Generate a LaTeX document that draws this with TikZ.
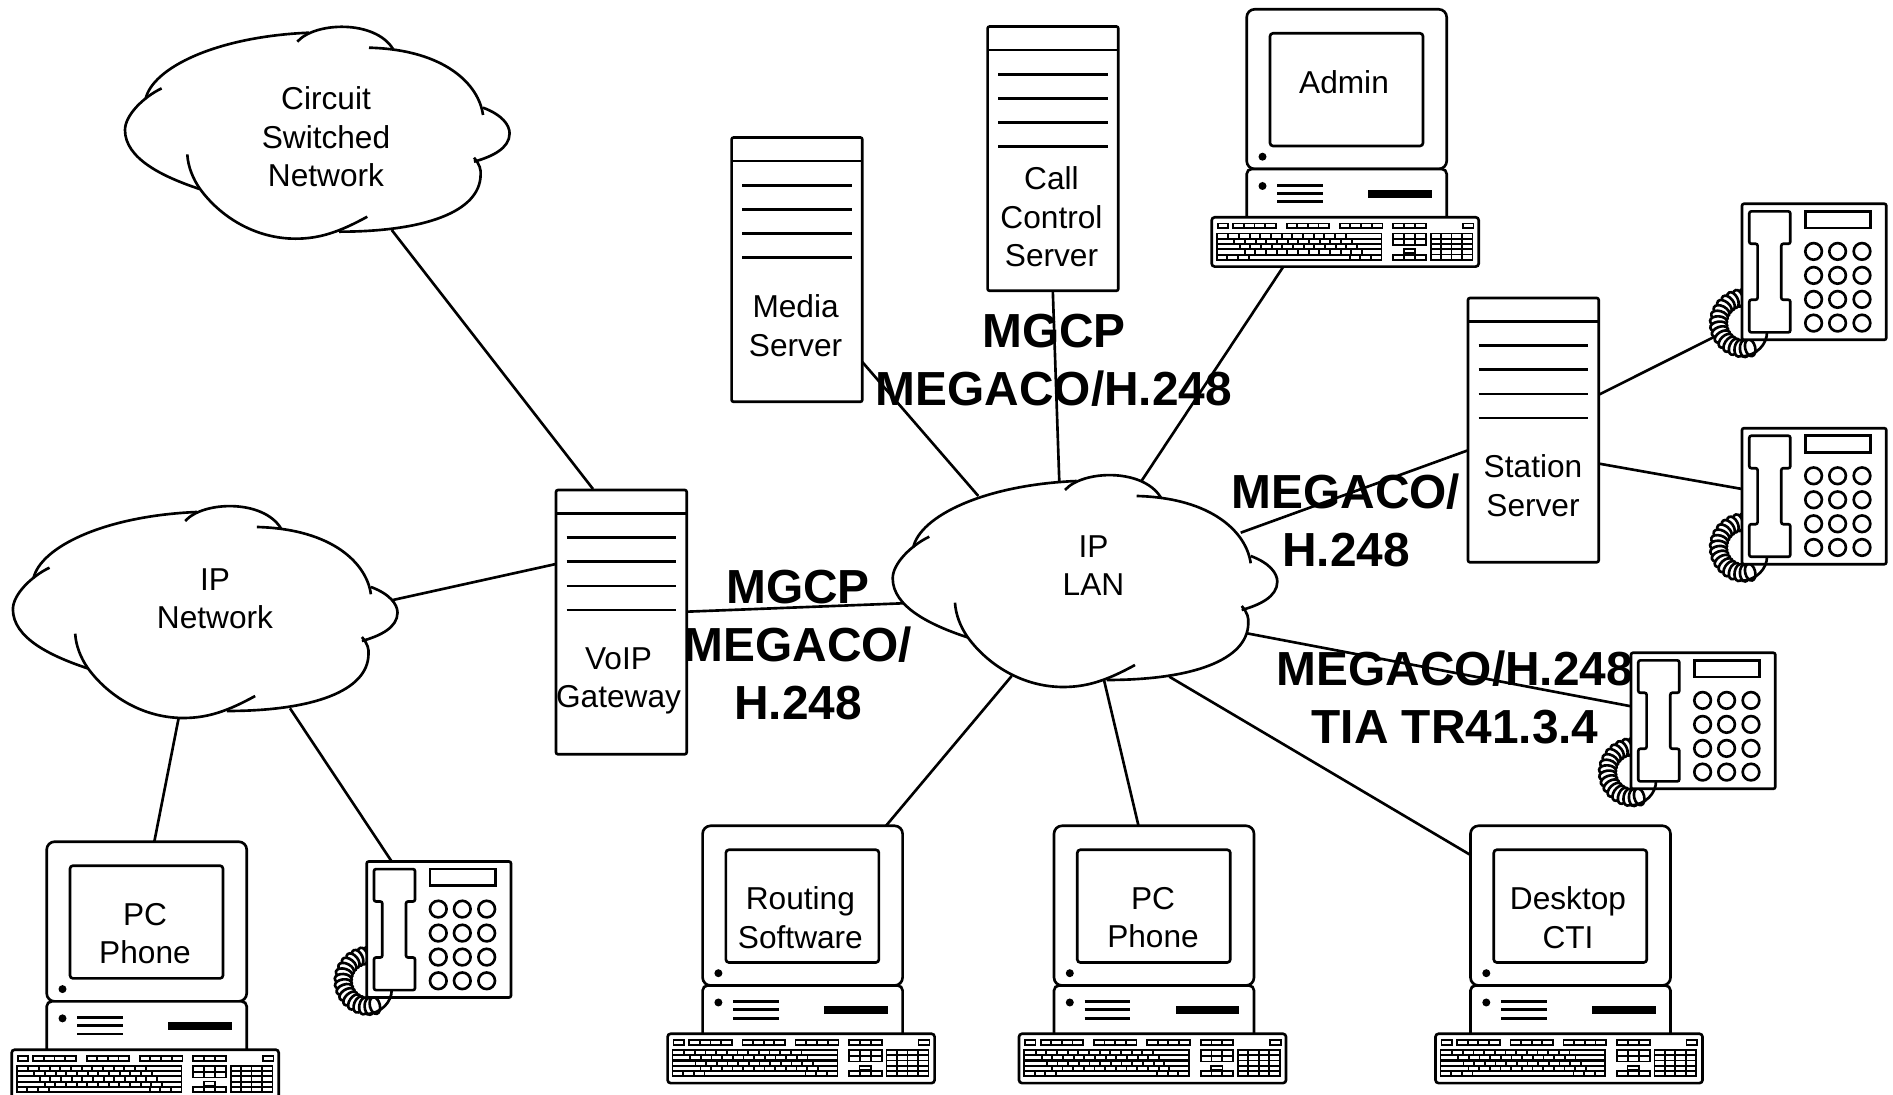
\documentclass[tikz,border=0pt]{standalone}
\usepackage{fontspec}
\setmainfont{Liberation Sans}
\usepackage{tikz}
\tikzstyle{lbl} = [align=center,inner sep=0pt,font=\fontsize{9}{10.95}\selectfont]
\tikzstyle{proto} = [align=center,inner sep=0pt,font=\fontsize{13.6}{16.5}\selectfont\bfseries]

% black block holding a grid of white keys
\newcommand{\keygroup}[6]{%
	\fill (#1,#3) rectangle (#2,#4);
	\pgfmathsetmacro{\kw}{(#2-#1-1.8*(#5+1))/#5}
	\pgfmathsetmacro{\kh}{(#4-#3-1.8*(#6+1))/#6}
	\foreach \i in {1,...,#5} \foreach \j in {1,...,#6}
		\fill[white] ({#1+1.8+(\i-1)*(\kw+1.8)},{#3+1.8+(\j-1)*(\kh+1.8)}) rectangle ++(\kw,\kh);
}

\tikzset{
	keyboard/.pic={
		\draw[fill=white,rounded corners=0.3mm] (0,0) rectangle (267,49.3);
		\keygroup{5}{17.3}{5.3}{12}{1}{1}
		\keygroup{20.7}{65}{5.3}{12}{4}{1}
		\keygroup{74}{118.3}{5.3}{12}{4}{1}
		\keygroup{127}{171.7}{5.3}{12}{4}{1}
		\keygroup{180.7}{215}{5.3}{12}{3}{1}
		\keygroup{250}{262.7}{5.3}{12}{1}{1}
		\keygroup{180.7}{215}{15.3}{28.7}{3}{2}
		\keygroup{191}{204.3}{31}{36.7}{1}{1}
		\keygroup{180.7}{215}{36.7}{43.3}{3}{1}
		\keygroup{218}{261.7}{15.3}{43.3}{4}{5}
		\fill (4,15.3) rectangle (170.7,43.3);
		\foreach \r/\s in {0/15.7,1/21.7,2/27,3/32} {
			\fill[white] (5.8,{17.1+\r*5.32}) rectangle (168.9,{20.3+\r*5.32});
			\foreach \k in {0,...,11}
				\fill ({\s+\k*10.67},{17.1+\r*5.32}) rectangle ++(1.8,3.2);
		}
		\fill[white] (5.8,38.4) rectangle (168.9,41.6);
		\foreach \x in {14.7,25.4,36,137,147.7,158.4}
			\fill (\x,38.4) rectangle ++(1.8,3.2);
	},
	pcstation/.pic={
		\draw[fill=white,rounded corners=0.8mm] (0,0) rectangle (200,159.7);
		\draw[fill=white,rounded corners=0.3mm] (23.3,24) rectangle (176.3,136.7);
		\fill (15.8,147.4) circle (4);
		\draw[fill=white,rounded corners=0.5mm] (0,208) -- (0,159.7) -- (200,159.7) -- (200,208);
		\fill (15.8,176.7) circle (4);
		\foreach \y in {176,184,192.4}
			\draw (30.6,\y) -- (76,\y);
		\fill (121.6,180.7) rectangle (185,188.4);
		\pic at (-35,208) {keyboard};
	},
	serverbox/.pic={
		\draw[fill=white,rounded corners=0.2mm] (0,0) rectangle (130.7,264.3);
		\draw (0,23.5) -- (130.7,23.5);
		\foreach \y in {47.7,71.7,96,120}
			\draw (10.7,\y) -- (120,\y);
	},
	phoneset/.pic={
		\foreach \a in {268,256,...,76}
			\draw[fill=white,shift={(\a:25.5)},shift={(2,119.3)},rotate=-\a] (0,0) ellipse (8.5 and 5);
		\draw[fill=white,rounded corners=0.2mm] (0,0) rectangle (144.3,136);
		\draw[fill=white,rounded corners=0.2mm] (7.3,7.6) -- (48.3,7.6) -- (48.3,40) -- (39.3,40) -- (39.3,96) -- (48.3,96) -- (48.3,128.6) -- (7.3,128.6) -- (7.3,96) -- (15.6,96) -- (15.6,40) -- (7.3,40) -- cycle;
		\draw (63.3,7.6) rectangle (128.6,24.3);
		\foreach \x in {71.6,95.6,120} \foreach \y in {47.6,71.6,95.6,119.3}
			\draw (\x,\y) circle (8.3);
		\draw (25,128.6) .. controls (25,140) and (15,152) .. (-0.7,152.6);
	},
	cloudy/.pic={
		\draw (74.6,162.3) .. controls (37.3,150) and (0,131.7) .. (0,103.3) .. controls (0,88.3) and (19,70) .. (36.6,61.7);
		\draw (20.6,72.3) .. controls (27.3,41.7) and (90,10) .. (184,6);
		\draw (172.3,15) .. controls (190,-5) and (250,-7) .. (268,22.3);
		\draw (244,21) .. controls (320.6,23) and (354,58.3) .. (358,88.3);
		\draw (358,81) .. controls (377,88) and (384.6,98.3) .. (384.6,106.7) .. controls (384.6,121.7) and (367,130) .. (349,135);
		\draw (349,131) .. controls (355,138) and (356,143) .. (355.6,148.3) .. controls (355,185) and (300,205) .. (214,205);
		\draw (242.3,190) .. controls (215,205) and (195,212) .. (170.6,212) .. controls (130,212) and (95,190) .. (74.6,161.7) .. controls (68,152) and (63,140) .. (62.3,127.7);
	}
}

\begin{document}
\begin{tikzpicture}[x=0.01cm,y=-0.01cm,line width=0.75pt]
	\useasboundingbox (0,0) rectangle (1893,1095);
	% clouds
	\pic at (125,26.7) {cloudy};
	\pic at (892.7,475) {cloudy};
	\pic at (12.9,506) {cloudy};
	\node[lbl] (circuit) at (326,136.7) {Circuit\\Switched\\Network};
	\node[lbl] (lan) at (1093.5,565.5) {IP\\LAN};
	\node[lbl] (ipnet) at (215,599) {IP\\Network};
	% servers
	\pic at (556,490) {serverbox};
	\pic at (731.6,137.5) {serverbox};
	\pic at (987.6,26.5) {serverbox};
	\pic at (1468,298) {serverbox};
	\node[lbl] (gateway) at (618.5,681) {VoIP\\Gateway};
	\node[lbl] (media) at (795.6,325.5) {Media\\Server};
	\node[lbl] (callctl) at (1051.5,217) {Call\\Control\\Server};
	\node[lbl] (station) at (1533,485.5) {Station\\Server};
	% computers
	\pic at (1246.7,9.3) {pcstation};
	\pic at (46.7,841.7) {pcstation};
	\pic at (702.6,825.8) {pcstation};
	\pic at (1054,825.8) {pcstation};
	\pic at (1470.5,825.8) {pcstation};
	\node[lbl] (admin) at (1344,82) {Admin};
	\node[lbl] (pcphone1) at (145,933.5) {PC\\Phone};
	\node[lbl] (routing) at (800.4,917.5) {Routing\\Software};
	\node[lbl] (pcphone2) at (1153,917.5) {PC\\Phone};
	\node[lbl] (desktop) at (1568,917.5) {Desktop\\CTI};
	% phones
	\pic at (366.7,861.5) {phoneset};
	\pic at (1742,203.8) {phoneset};
	\pic at (1742,428.2) {phoneset};
	\pic at (1631,652.8) {phoneset};
	% connector ends
	\coordinate (c1) at (391.7,230);
	\coordinate (g1) at (593,489);
	\coordinate (n1) at (392.9,600);
	\coordinate (g2) at (556,564);
	\coordinate (n2) at (178.6,718.3);
	\coordinate (p1) at (154.3,841.7);
	\coordinate (n3) at (290,708.3);
	\coordinate (t1) at (391.7,861.5);
	\coordinate (g3) at (686.7,611.7);
	\coordinate (l1) at (903.3,603.3);
	\coordinate (m1) at (862.3,362);
	\coordinate (l2) at (978.3,496);
	\coordinate (s1) at (1052.8,290.8);
	\coordinate (l3) at (1059.3,481.7);
	\coordinate (a1) at (1283.3,266.7);
	\coordinate (l4) at (1141.7,480.7);
	\coordinate (s2) at (1468,450.3);
	\coordinate (l5) at (1240.7,532.7);
	\coordinate (l6) at (1246.7,633.3);
	\coordinate (t2) at (1631,706.3);
	\coordinate (l7) at (1169.3,676.7);
	\coordinate (p2) at (1470.5,855);
	\coordinate (l8) at (1104,680);
	\coordinate (p3) at (1138.5,825.8);
	\coordinate (l9) at (1011.7,676);
	\coordinate (p4) at (886,825.8);
	\coordinate (s3) at (1598.7,394.8);
	\coordinate (t3) at (1714,337);
	\coordinate (s4) at (1598.7,463.6);
	\coordinate (t4) at (1742,489);
	\draw (c1) -- (g1);
	\draw (n1) -- (g2);
	\draw (n2) -- (p1);
	\draw (n3) -- (t1);
	\draw (g3) -- (l1);
	\draw (m1) -- (l2);
	\draw (s1) -- (l3);
	\draw (a1) -- (l4);
	\draw (s2) -- (l5);
	\draw (l6) -- (t2);
	\draw (l7) -- (p2);
	\draw (l8) -- (p3);
	\draw (l9) -- (p4);
	\draw (s3) -- (t3);
	\draw (s4) -- (t4);
	% protocols
	\node[proto] (proto1) at (1054,360) {MGCP\\MEGACO/H.248};
	\node[proto] (proto2) at (1346,520) {MEGACO/\\H.248};
	\node[proto] (proto3) at (798,645) {MGCP\\MEGACO/\\H.248};
	\node[proto] (proto4) at (1455,697) {MEGACO/H.248\\TIA TR41.3.4};
\end{tikzpicture}
\end{document}
